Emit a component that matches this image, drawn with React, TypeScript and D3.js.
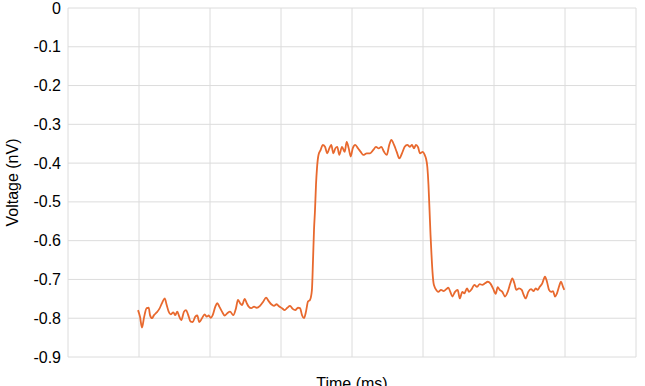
import React from "react";
import * as d3 from "d3";

const yTicks = [0, -0.1, -0.2, -0.3, -0.4, -0.5, -0.6, -0.7, -0.8, -0.9];
const xGrid = [0, 1, 2, 3, 4, 5, 6, 7, 8];

const timeMs = [
  0.986, 1.014, 1.042, 1.07, 1.108, 1.137, 1.155, 1.183, 1.211, 1.249, 1.286, 1.324, 1.362, 1.39, 1.418,
  1.446, 1.483, 1.511, 1.539, 1.568, 1.596, 1.634, 1.662, 1.69, 1.728, 1.756, 1.793, 1.821, 1.849, 1.887,
  1.925, 1.954, 1.982, 2.01, 2.038, 2.075, 2.103, 2.131, 2.169, 2.207, 2.244, 2.282, 2.328, 2.366, 2.394,
  2.423, 2.451, 2.489, 2.517, 2.545, 2.582, 2.62, 2.658, 2.704, 2.751, 2.789, 2.827, 2.863, 2.901, 2.939,
  2.976, 3.014, 3.052, 3.089, 3.127, 3.165, 3.201, 3.239, 3.268, 3.296, 3.324, 3.352, 3.38, 3.408, 3.427,
  3.437, 3.451, 3.465, 3.479, 3.493, 3.507, 3.528, 3.559, 3.587, 3.62, 3.652, 3.68, 3.708, 3.737, 3.765,
  3.793, 3.821, 3.859, 3.897, 3.925, 3.954, 3.982, 4.01, 4.046, 4.085, 4.123, 4.159, 4.207, 4.254, 4.3,
  4.338, 4.376, 4.413, 4.451, 4.489, 4.525, 4.554, 4.592, 4.63, 4.666, 4.704, 4.742, 4.779, 4.817, 4.845,
  4.873, 4.901, 4.93, 4.958, 4.996, 5.024, 5.042, 5.061, 5.077, 5.092, 5.106, 5.12, 5.134, 5.148, 5.159,
  5.187, 5.215, 5.254, 5.292, 5.328, 5.356, 5.385, 5.413, 5.451, 5.489, 5.517, 5.554, 5.582, 5.62, 5.648,
  5.686, 5.723, 5.761, 5.799, 5.835, 5.873, 5.911, 5.948, 5.986, 6.024, 6.052, 6.08, 6.117, 6.155, 6.193,
  6.23, 6.258, 6.287, 6.315, 6.352, 6.39, 6.418, 6.446, 6.483, 6.521, 6.559, 6.587, 6.615, 6.644, 6.68,
  6.718, 6.746, 6.775, 6.803, 6.831, 6.859, 6.887, 6.915, 6.944, 6.972, 6.99,
];

const voltageNv = [
  -0.779, -0.796, -0.824, -0.799, -0.774, -0.773, -0.792, -0.8, -0.792, -0.785, -0.776, -0.761, -0.749, -0.766, -0.783,
  -0.79, -0.785, -0.792, -0.783, -0.796, -0.805, -0.783, -0.779, -0.79, -0.809, -0.81, -0.796, -0.793, -0.81, -0.8,
  -0.79, -0.796, -0.793, -0.799, -0.792, -0.77, -0.761, -0.77, -0.783, -0.793, -0.787, -0.783, -0.792, -0.774, -0.753,
  -0.761, -0.766, -0.75, -0.761, -0.77, -0.774, -0.77, -0.773, -0.768, -0.757, -0.747, -0.756, -0.764, -0.768, -0.764,
  -0.77, -0.774, -0.779, -0.773, -0.768, -0.776, -0.779, -0.773, -0.774, -0.792, -0.8, -0.783, -0.757, -0.753, -0.74,
  -0.723, -0.65, -0.572, -0.521, -0.456, -0.413, -0.379, -0.366, -0.353, -0.358, -0.375, -0.362, -0.353, -0.375, -0.362,
  -0.358, -0.379, -0.358, -0.371, -0.345, -0.362, -0.383, -0.362, -0.353, -0.362, -0.371, -0.379, -0.375, -0.375, -0.366,
  -0.358, -0.362, -0.358, -0.371, -0.379, -0.353, -0.34, -0.353, -0.371, -0.388, -0.375, -0.358, -0.353, -0.358, -0.353,
  -0.362, -0.353, -0.359, -0.375, -0.371, -0.379, -0.388, -0.41, -0.456, -0.521, -0.585, -0.637, -0.681, -0.709, -0.717,
  -0.727, -0.732, -0.727, -0.73, -0.725, -0.721, -0.732, -0.744, -0.732, -0.727, -0.749, -0.732, -0.736, -0.723, -0.732,
  -0.725, -0.714, -0.719, -0.712, -0.714, -0.71, -0.706, -0.71, -0.723, -0.737, -0.72, -0.727, -0.732, -0.744, -0.732,
  -0.71, -0.697, -0.71, -0.727, -0.723, -0.727, -0.74, -0.749, -0.732, -0.725, -0.73, -0.723, -0.727, -0.719, -0.71,
  -0.693, -0.706, -0.727, -0.732, -0.73, -0.744, -0.736, -0.719, -0.706, -0.719, -0.727,
];

const W = 645;
const H = 386;
const M = { left: 68, right: 9, top: 8, bottom: 29 };

export default function App() {
  const x = d3.scaleLinear().domain([0, 8]).range([M.left, W - M.right]);
  const y = d3.scaleLinear().domain([-0.9, 0]).range([H - M.bottom, M.top]);
  const pts: [number, number][] = timeMs.map((t, i) => [t, voltageNv[i]]);
  const line = d3
    .line<[number, number]>()
    .x((d) => x(d[0]))
    .y((d) => y(d[1]))
    .curve(d3.curveMonotoneX);
  const font = "'Liberation Sans', Arial, sans-serif";
  return (
    <svg
      width={W}
      height={H}
      style={{ position: "absolute", left: 0, top: 0, background: "#fff" }}
      fontFamily={font}
    >
      <g>
        {yTicks.map((v) => (
          <line key={"y" + v} x1={x(0)} x2={x(8)} y1={y(v)} y2={y(v)} stroke="#dcdcdc" strokeWidth={1} />
        ))}
        {xGrid.map((t) => (
          <line key={"x" + t} x1={x(t)} x2={x(t)} y1={y(0)} y2={y(-0.9)} stroke="#dcdcdc" strokeWidth={1} />
        ))}
      </g>
      <g>
        {yTicks.map((v) => (
          <text
            key={"t" + v}
            x={61}
            y={y(v)}
            dy="0.35em"
            textAnchor="end"
            fontSize={16}
            fill="#000"
          >
            {v === 0 ? "0" : d3.format(".1f")(v).replace("−", "-")}
          </text>
        ))}
      </g>
      <path d={line(pts) || ""} fill="none" stroke="#e8692e" strokeWidth={1.8} strokeLinejoin="round" />
      <text
        transform={`translate(12,${(y(0) + y(-0.9)) / 2}) rotate(-90)`}
        textAnchor="middle"
        dy="0.35em"
        fontSize={16}
        fill="#000"
      >
        Voltage (nV)
      </text>
      <text x={(x(0) + x(8)) / 2} y={389} textAnchor="middle" fontSize={16} fill="#000">
        Time (ms)
      </text>
    </svg>
  );
}
